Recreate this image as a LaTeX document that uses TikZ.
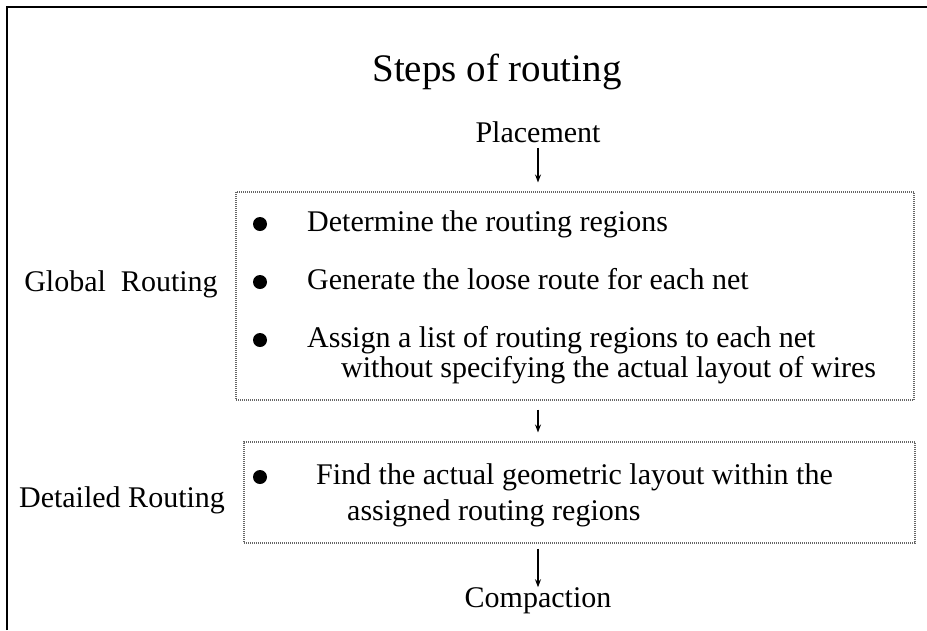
\documentclass[tikz,border=0pt]{standalone}
\usepackage{fontspec}
\setmainfont{Liberation Serif}
\usetikzlibrary{arrows.meta,calc}
\begin{document}
\begin{tikzpicture}[x=1pt,y=-1pt,
  body/.style={font=\fontsize{30}{30}\selectfont, inner sep=0pt},
  title/.style={font=\fontsize{39}{44}\selectfont, inner sep=0pt},
  stage/.style={draw=black!60, line width=1.1pt, dash pattern=on 1pt off 1pt, inner sep=0pt},
  dot/.style={circle, fill=black, inner sep=0pt, minimum size=14pt},
  flow/.style={line width=1.1pt, -{Stealth[length=8pt,width=6pt]}}]
  % page and frame
  \useasboundingbox (0,0) rectangle (927,630);
  \draw[line width=2pt] (7,630) -- (7,7) -- (927,7);

  % headings
  \node[title, anchor=mid] (ttl) at (497,79) {Steps of routing};
  \node[body, anchor=mid] (place) at (538,140) {Placement};
  \node[body, anchor=mid] (comp) at (538,605) {Compaction};

  % stage boxes
  \node[stage, minimum width=678pt, minimum height=208pt] (gbox) at (575,296) {};
  \node[stage, minimum width=671pt, minimum height=101pt] (dbox) at (579.5,492.5) {};

  % side labels
  \node[body, anchor=mid] (glab) at (121,289) {Global\hspace{0.5em}Routing};
  \node[body, anchor=mid] (dlab) at (122,505) {Detailed Routing};

  % global routing items
  \node[dot] (b1) at (260,224) {};
  \node[dot] (b2) at (260,282) {};
  \node[dot] (b3) at (260,340) {};
  \node[body, anchor=mid west] (g1) at (307,229) {Determine the routing regions};
  \node[body, anchor=mid west] (g2) at (307,287) {Generate the loose route for each net};
  \node[body, anchor=mid west] (g3) at (307,345) {Assign a list of routing regions to each net};
  \node[body, anchor=mid west] (g4) at (341,375) {without specifying the actual layout of wires};

  % detailed routing item
  \node[dot] (b4) at (260,477) {};
  \node[body, anchor=mid west] (d1) at (316,482) {Find the actual geometric layout within the};
  \node[body, anchor=mid west] (d2) at (347,518) {assigned routing regions};

  % flow arrows
  \draw[flow, shorten <=5pt, shorten >=9pt] (place.south) -- (place.south |- gbox.north);
  \draw[flow, shorten <=9pt, shorten >=9pt] (place.south |- gbox.south) -- (place.south |- dbox.north);
  \draw[flow, shorten <=5pt] (place.south |- dbox.south) -- (comp.north);
\end{tikzpicture}
\end{document}
